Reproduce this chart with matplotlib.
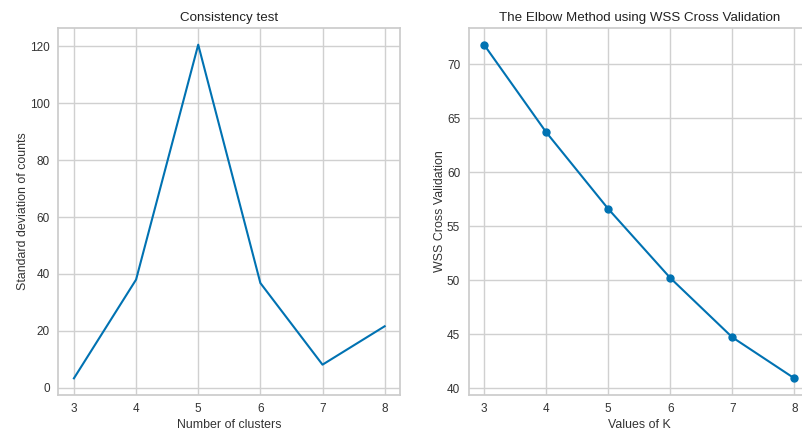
import matplotlib
matplotlib.use("Agg")
import matplotlib.pyplot as plt

# data
clusters = [3, 4, 5, 6, 7, 8]
std_counts = [3.3, 38.0, 120.6, 36.8, 8.1, 21.6]

k_values = [3, 4, 5, 6, 7, 8]
wss_cv = [71.8, 63.7, 56.6, 50.2, 44.7, 40.9]

line_color = "#0072B2"

plt.rcParams["font.family"] = ["Liberation Sans", "DejaVu Sans"]
plt.rcParams["axes.edgecolor"] = "#cccccc"
plt.rcParams["axes.linewidth"] = 1.25
plt.rcParams["grid.color"] = "#d0d0d0"
plt.rcParams["grid.linewidth"] = 1.0
plt.rcParams["xtick.color"] = "#333333"
plt.rcParams["ytick.color"] = "#333333"
plt.rcParams["axes.labelcolor"] = "#333333"
plt.rcParams["text.color"] = "#222222"

fig = plt.figure(figsize=(8.02, 4.3), dpi=100)
ax1 = fig.add_axes([0.0728, 0.0814, 0.4262, 0.8535])
ax2 = fig.add_axes([0.5842, 0.0814, 0.4256, 0.8535])

def style(ax):
    ax.grid(True)
    ax.set_axisbelow(True)
    ax.tick_params(length=0, pad=6, labelsize=8.5)
    for s in ax.spines.values():
        s.set_color("#cccccc")

ax1.plot(clusters, std_counts, color=line_color, linewidth=1.5)
ax1.set_title("Consistency test", fontsize=9.6, pad=5)
ax1.set_xlabel("Number of clusters", fontsize=8.9, labelpad=3)
ax1.set_ylabel("Standard deviation of counts", fontsize=8.9, labelpad=1)
style(ax1)

ax2.plot(k_values, wss_cv, color=line_color, linewidth=1.5, marker="o", markersize=5)
ax2.set_title("The Elbow Method using WSS Cross Validation", fontsize=9.6, pad=5)
ax2.set_xlabel("Values of K", fontsize=8.9, labelpad=3)
ax2.set_ylabel("WSS Cross Validation", fontsize=8.9, labelpad=1)
style(ax2)

fig.savefig("out.png", dpi=100)
